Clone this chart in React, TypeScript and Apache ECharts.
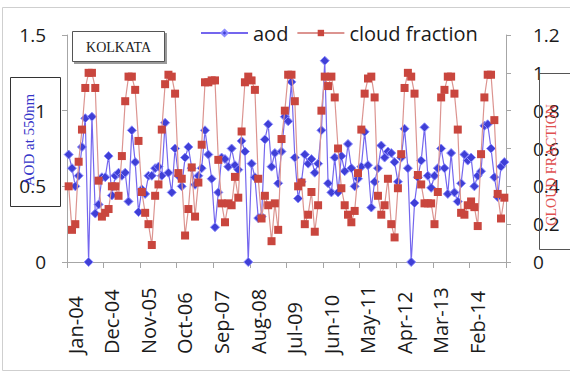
import React, { useEffect, useRef } from "react";
import * as echarts from "echarts";

const MONTHS = ["Jan", "Feb", "Mar", "Apr", "May", "Jun", "Jul", "Aug", "Sep", "Oct", "Nov", "Dec"];
const YEARS = ["04", "05", "06", "07", "08", "09", "10", "11", "12", "13", "14"];
const categories: string[] = YEARS.flatMap((y) => MONTHS.map((m) => `${m}-${y}`));

const aod: number[] = [
  0.71, 0.62, 0.5, 0.57, 0.76, 0.95, 0, 0.96, 0.32, 0.38, 0.56, 0.56,
  0.7, 0.44, 0.57, 0.59, 0.57, 0.59, 0.4, 0.87, 0.66, 0.33, 0.48, 0.45,
  0.57, 0.57, 0.62, 0.63, 0.57, 0.92, 0.59, 0.46, 0.75, 0.57, 0.5, 0.69,
  0.76, 0.62, 0.51, 0.57, 0.62, 0.87, 0.71, 0.55, 0.23, 0.46, 0.69, 0.68,
  0.63, 0.75, 0.64, 0.61, 0.8, 0.73, 0, 0.65, 0.56, 0.29, 0.3, 0.81,
  0.91, 0.63, 0.72, 0.52, 0.73, 0.96, 0.93, 1.19, 0.69, 0.42, 0.53, 0.71,
  0.65, 0.68, 0.59, 0.65, 0.87, 1.33, 0.52, 0.46, 0.69, 0.46, 0.7, 0.6,
  0.78, 0.62, 0.5, 0.55, 0.63, 0.86, 0.64, 0.36, 0.53, 0.62, 0.77, 0.69,
  0.73, 0.72, 0.66, 0.53, 0.69, 0.88, 0.62, 0, 0.39, 0.56, 0.67, 0.89,
  0.57, 0.49, 0.57, 0.62, 0.75, 0.62, 0.45, 0.72, 0.46, 0.4, 0.52, 0.71,
  0.67, 0.69, 0.5, 0.57, 0.6, 0.9, 0.91, 0.75, 0.56, 0.43, 0.63, 0.66,
];

const cloudFraction: number[] = [
  0.4, 0.17, 0.2, 0.53, 0.7, 0.92, 1.0, 1.0, 0.92, 0.43, 0.24, 0.26,
  0.28, 0.4, 0.4, 0.35, 0.56, 0.85, 0.98, 0.98, 0.91, 0.64, 0.37, 0.26,
  0.2, 0.09, 0.35, 0.41, 0.7, 0.94, 0.99, 0.98, 0.89, 0.47, 0.44, 0.14,
  0.28, 0.5, 0.24, 0.42, 0.62, 0.95, 0.95, 0.96, 0.96, 0.54, 0.31, 0.21,
  0.31, 0.3, 0.45, 0.34, 0.69, 0.95, 0.98, 0.96, 0.91, 0.44, 0.23, 0.35,
  0.3, 0.11, 0.31, 0.17, 0.65, 0.8, 0.99, 0.99, 0.85, 0.4, 0.42, 0.2,
  0.25, 0.37, 0.16, 0.3, 0.8, 0.98, 0.93, 0.98, 0.87, 0.6, 0.39, 0.3,
  0.25, 0.21, 0.27, 0.47, 0.7, 0.89, 0.97, 0.98, 0.87, 0.35, 0.25, 0.3,
  0.44, 0.2, 0.13, 0.39, 0.57, 0.92, 1.0, 0.98, 0.89, 0.46, 0.41, 0.31,
  0.31, 0.31, 0.2, 0.37, 0.87, 0.91, 0.98, 0.98, 0.89, 0.7, 0.26, 0.25,
  0.3, 0.32, 0.29, 0.19, 0.57, 0.87, 0.99, 0.99, 0.75, 0.36, 0.23, 0.34,
];

const SERIES_NAMES = ["aod", "cloud fraction"];
const LEFT_TITLE = "AOD at 550nm";
const RIGHT_TITLE = "CLOUD FRACTION";
const CITY = "KOLKATA";

const FONT = "'Open Sans', 'Liberation Sans', sans-serif";
const SERIF = "'Liberation Serif', 'DejaVu Serif', serif";

export default function App() {
  const ref = useRef<HTMLDivElement>(null);

  useEffect(() => {
    if (!ref.current) return;
    const chart = echarts.init(ref.current, undefined, { renderer: "svg" });
    const axisGray = "#a6a6a6";
    chart.setOption({
      animation: false,
      backgroundColor: "#ffffff",
      grid: { left: 67, right: 64, top: 35, bottom: 110 },
      legend: {
        data: SERIES_NAMES,
        left: 195,
        top: 18,
        itemWidth: 47,
        itemHeight: 8,
        itemGap: 8,
        textStyle: { fontFamily: FONT, fontSize: 20, color: "#1a1a1a" },
      },
      xAxis: {
        type: "category",
        data: categories,
        boundaryGap: true,
        axisLine: { lineStyle: { color: axisGray, width: 1 } },
        axisTick: { show: true, interval: 10, length: 6, lineStyle: { color: axisGray } },
        axisLabel: {
          interval: 10,
          rotate: 90,
          align: "left",
          verticalAlign: "top",
          lineHeight: 13,
          margin: 92,
          fontFamily: FONT,
          fontSize: 20,
          color: "#1a1a1a",
        },
        splitLine: { show: false },
      },
      yAxis: [
        {
          type: "value",
          min: 0,
          max: 1.5,
          interval: 0.5,
          position: "left",
          axisLine: { show: true, lineStyle: { color: axisGray } },
          axisTick: { show: true, length: 5, lineStyle: { color: axisGray } },
          axisLabel: { margin: 21, fontFamily: FONT, fontSize: 19, color: "#1a1a1a" },
          splitLine: { show: false },
        },
        {
          type: "value",
          min: 0,
          max: 1.2,
          interval: 0.2,
          position: "right",
          axisLine: { show: true, lineStyle: { color: axisGray } },
          axisTick: { show: true, length: 5, lineStyle: { color: axisGray } },
          axisLabel: {
            margin: 27,
            fontFamily: FONT,
            fontSize: 19,
            color: "#1a1a1a",
            formatter: (v: number) => String(Math.round(v * 10) / 10),
          },
          splitLine: { show: false },
        },
      ],
      series: [
        {
          name: SERIES_NAMES[0],
          type: "line",
          yAxisIndex: 0,
          data: aod,
          symbol: "diamond",
          symbolSize: 9,
          showAllSymbol: true,
          lineStyle: { color: "#7466ee", width: 1.2 },
          itemStyle: { color: "#3f3fd6", borderColor: "#8c8cff", borderWidth: 1 },
          z: 2,
        },
        {
          name: SERIES_NAMES[1],
          type: "line",
          yAxisIndex: 1,
          data: cloudFraction,
          symbol: "rect",
          symbolSize: 8,
          showAllSymbol: true,
          lineStyle: { color: "#dc9490", width: 1.2 },
          itemStyle: { color: "#c9463e" },
          z: 3,
        },
      ],
      graphic: [
        {
          type: "rect",
          shape: { x: 2.5, y: 7.5, width: 600, height: 363 },
          style: { fill: "none", stroke: "#cfcfcf", lineWidth: 1 },
          z: 0,
          silent: true,
        },
        {
          type: "rect",
          shape: { x: 74, y: 33, width: 93, height: 31 },
          style: { fill: "#9a9a9a" },
          z: 10,
        },
        {
          type: "rect",
          shape: { x: 72.5, y: 31.5, width: 92, height: 30 },
          style: { fill: "#ffffff", stroke: "#555555", lineWidth: 1 },
          z: 11,
        },
        {
          type: "text",
          x: 118.5,
          y: 47,
          style: {
            text: CITY,
            fontFamily: SERIF,
            fontSize: 14,
            fill: "#222222",
            align: "center",
            verticalAlign: "middle",
          },
          z: 12,
        },
        {
          type: "rect",
          shape: { x: 10.5, y: 77.5, width: 50, height: 129 },
          style: { fill: "none", stroke: "#333333", lineWidth: 1 },
          z: 10,
        },
        {
          type: "text",
          x: 29,
          y: 140,
          rotation: Math.PI / 2,
          style: {
            text: LEFT_TITLE,
            fontFamily: SERIF,
            fontSize: 15,
            fill: "#3535c8",
            align: "center",
            verticalAlign: "middle",
          },
          z: 10,
        },
        {
          type: "rect",
          shape: { x: 539.5, y: 73.5, width: 60, height: 176 },
          style: { fill: "none", stroke: "#555555", lineWidth: 1 },
          z: 10,
        },
        {
          type: "text",
          x: 551,
          y: 165,
          rotation: Math.PI / 2,
          style: {
            text: RIGHT_TITLE,
            fontFamily: SERIF,
            fontSize: 14,
            fill: "#e05050",
            align: "center",
            verticalAlign: "middle",
          },
          z: 10,
        },
      ],
    });
    return () => chart.dispose();
  }, []);

  return (
    <div
      ref={ref}
      style={{ position: "absolute", left: 0, top: 0, width: 570, height: 372, background: "#fff" }}
    />
  );
}
